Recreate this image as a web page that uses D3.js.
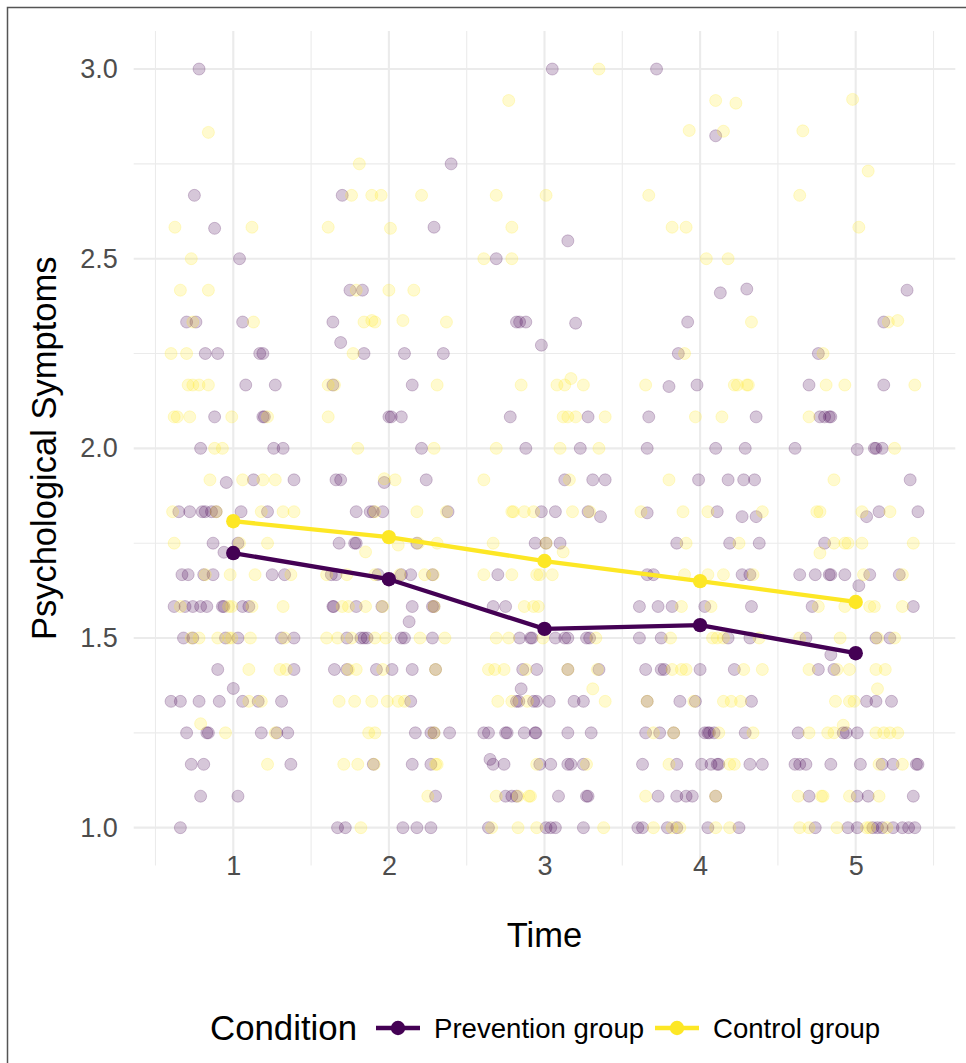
<!DOCTYPE html>
<html>
<head>
<meta charset="utf-8">
<script src="https://cdn.jsdelivr.net/npm/d3@7"></script>
<style>
  html, body { margin: 0; padding: 0; background: #fff; }
  svg { display: block; font-family: "Liberation Sans", Arial, sans-serif; }
</style>
</head>
<body>
<div id="chart"></div>
<script>
// --- data ---
const times = [1, 2, 3, 4, 5];
const yTicks = [1.0, 1.5, 2.0, 2.5, 3.0];
const groups = ["Prevention group", "Control group"];
const preventionMeans = [1.724, 1.655, 1.524, 1.534, 1.460];
const controlMeans    = [1.808, 1.766, 1.703, 1.650, 1.595];

// jittered raw observations [time + jitter, symptoms]
const preventionPts = [
  [0.78,3.0],[0.75,2.667],[0.88,2.58],[1.04,2.5],[0.70,2.333],[0.76,2.333],[1.06,2.333],[0.82,2.25],[0.90,2.25],[1.17,2.25],[1.19,2.25],[1.08,2.167],[1.27,2.167],[0.88,2.083],[1.19,2.083],[1.20,2.083],[0.79,2.0],[1.26,2.0],[1.32,2.0],
  [0.955,1.91],[1.13,1.917],[1.39,1.917],[0.65,1.833],[0.72,1.833],[0.80,1.833],[0.82,1.833],[0.86,1.833],[0.89,1.833],[1.05,1.833],[1.22,1.833],
  [0.87,1.75],[1.03,1.75],[0.94,1.726],[0.67,1.667],[0.71,1.667],[0.81,1.667],[0.87,1.667],[1.25,1.667],[1.33,1.667],
  [0.62,1.583],[0.69,1.583],[0.74,1.583],[0.79,1.583],[0.83,1.583],[0.93,1.583],[0.94,1.583],[1.06,1.583],[1.10,1.583],
  [0.68,1.5],[0.74,1.5],[0.95,1.5],[1.03,1.5],[1.31,1.5],[1.39,1.5],[0.90,1.417],[1.39,1.417],[1.0,1.367],
  [0.60,1.333],[0.66,1.333],[0.78,1.333],[0.91,1.333],[1.06,1.333],[1.16,1.333],[1.31,1.333],
  [0.70,1.25],[0.83,1.25],[0.84,1.25],[1.18,1.25],[1.28,1.25],[1.35,1.25],[0.73,1.167],[0.81,1.167],[1.37,1.167],
  [0.79,1.083],[1.03,1.083],[0.66,1.0],
  [2.40,2.75],[1.70,2.667],[2.29,2.583],[1.75,2.417],[1.83,2.417],[1.64,2.333],[1.69,2.279],[1.84,2.25],[2.10,2.25],[2.35,2.25],[1.64,2.167],[2.15,2.167],[2.0,2.083],[2.015,2.083],[2.08,2.083],[2.21,2.0],
  [1.66,1.917],[1.69,1.917],[1.97,1.91],[2.24,1.917],[1.79,1.833],[1.88,1.833],[1.90,1.833],[1.96,1.833],[2.38,1.833],
  [1.68,1.75],[1.78,1.75],[1.79,1.75],[2.18,1.75],[1.63,1.667],[1.66,1.667],[1.93,1.667],[2.08,1.667],[2.14,1.667],[2.28,1.667],
  [1.64,1.583],[1.645,1.583],[1.79,1.583],[1.955,1.583],[2.15,1.583],[2.28,1.583],[2.29,1.583],[2.13,1.543],
  [1.73,1.5],[1.82,1.5],[1.84,1.5],[1.86,1.5],[2.08,1.5],[2.10,1.5],[2.28,1.5],
  [1.65,1.417],[1.73,1.417],[1.92,1.417],[2.02,1.417],[2.15,1.417],[2.30,1.417],[2.14,1.333],
  [2.17,1.25],[2.27,1.25],[2.29,1.25],[2.39,1.25],[1.90,1.167],[2.15,1.167],[2.27,1.167],[2.30,1.083],
  [1.67,1.0],[1.72,1.0],[2.09,1.0],[2.18,1.0],[2.27,1.0],
  [3.05,3.0],[3.15,2.547],[2.69,2.5],[2.82,2.333],[2.84,2.333],[2.88,2.333],[3.20,2.33],[2.98,2.272],[2.78,2.083],[3.28,2.083],[2.88,2.0],[3.23,2.0],
  [3.13,1.917],[3.31,1.917],[3.39,1.917],[2.98,1.833],[3.07,1.833],[3.28,1.833],[3.36,1.82],
  [2.94,1.75],[3.01,1.75],[3.10,1.75],[2.70,1.667],[2.67,1.583],[2.75,1.583],
  [2.84,1.5],[2.91,1.5],[2.92,1.5],[3.07,1.5],[3.13,1.5],[3.15,1.5],[3.27,1.5],[3.29,1.5],
  [2.86,1.417],[2.95,1.417],[3.15,1.417],[3.35,1.417],[2.85,1.366],
  [2.82,1.333],[2.835,1.333],[2.93,1.333],[2.95,1.333],[3.03,1.333],[3.19,1.333],[3.25,1.333],
  [2.61,1.25],[2.64,1.25],[2.75,1.25],[2.76,1.25],[2.87,1.25],[2.94,1.25],[2.945,1.25],[3.15,1.25],[3.30,1.25],
  [2.65,1.18],[2.67,1.167],[2.74,1.167],[2.97,1.167],[3.04,1.167],[3.15,1.167],[3.17,1.167],[3.25,1.167],
  [2.75,1.083],[2.79,1.083],[2.82,1.083],[3.09,1.083],[3.27,1.083],[3.28,1.083],
  [2.64,1.0],[3.01,1.0],[3.04,1.0],[3.07,1.0],[3.25,1.0],
  [3.72,3.0],[4.10,2.824],[4.13,2.41],[4.30,2.42],[3.92,2.333],[3.86,2.25],[3.80,2.163],[3.98,2.167],[3.67,2.083],[4.36,2.083],[3.66,2.0],[4.10,2.0],[4.29,2.0],
  [3.99,1.917],[4.18,1.917],[4.28,1.917],[4.35,1.917],[3.66,1.83],[4.11,1.833],[4.27,1.82],[4.36,1.82],
  [3.85,1.75],[4.19,1.75],[4.38,1.75],[3.66,1.667],[3.70,1.667],[4.27,1.667],[4.32,1.667],
  [3.61,1.583],[3.73,1.583],[3.82,1.583],[4.03,1.583],[4.33,1.583],[3.61,1.5],[3.75,1.5],[4.18,1.5],[4.32,1.5],
  [3.65,1.417],[3.75,1.417],[3.77,1.417],[4.0,1.417],[4.22,1.417],[3.66,1.333],[3.87,1.333],[3.97,1.333],[4.33,1.333],
  [3.65,1.25],[3.74,1.25],[3.83,1.25],[4.03,1.25],[4.05,1.25],[4.06,1.25],[4.09,1.25],[4.29,1.25],
  [3.63,1.167],[3.85,1.167],[4.01,1.167],[4.07,1.167],[4.11,1.167],[4.12,1.167],[4.32,1.167],[4.40,1.167],
  [3.73,1.083],[3.85,1.083],[3.91,1.083],[3.95,1.083],[4.10,1.083],
  [3.60,1.0],[3.63,1.0],[3.79,1.0],[3.85,1.0],[4.05,1.0],[4.25,1.0],
  [5.33,2.417],[5.18,2.333],[4.76,2.25],[4.70,2.167],[5.18,2.167],[4.77,2.083],[4.80,2.083],[4.83,2.083],[4.84,2.083],[4.61,2.0],[5.01,1.997],[5.12,2.0],[5.13,2.0],[5.17,2.0],
  [5.35,1.917],[5.07,1.82],[5.15,1.833],[5.40,1.833],[4.80,1.75],
  [4.64,1.667],[4.74,1.667],[4.83,1.667],[4.84,1.667],[4.93,1.667],[5.09,1.667],[5.28,1.667],[5.02,1.638],
  [4.72,1.583],[5.37,1.583],[4.68,1.5],[5.13,1.5],[5.22,1.5],[4.84,1.456],[4.76,1.417],[4.86,1.417],
  [5.07,1.333],[5.13,1.333],[5.23,1.333],[4.63,1.25],[4.92,1.25],[4.94,1.25],[5.01,1.25],
  [4.61,1.167],[4.64,1.167],[4.68,1.167],[4.84,1.167],[5.03,1.167],[5.17,1.167],[5.24,1.167],[5.39,1.167],[5.40,1.167],
  [4.70,1.083],[5.01,1.083],[5.08,1.083],[5.37,1.083],
  [4.74,1.0],[4.95,1.0],[5.01,1.0],[5.11,1.0],[5.14,1.0],[5.17,1.0],[5.24,1.0],[5.30,1.0],[5.34,1.0],[5.38,1.0]
];

const controlPts = [
  [0.84,2.833],[0.625,2.583],[1.12,2.583],[0.73,2.5],[0.66,2.417],[0.84,2.417],[0.74,2.333],[1.13,2.333],[0.60,2.25],[0.70,2.25],[0.71,2.167],[0.74,2.167],[0.78,2.167],[0.84,2.167],
  [0.62,2.083],[0.64,2.083],[0.72,2.083],[0.99,2.083],[1.22,2.083],[0.88,2.0],[0.93,2.0],
  [0.85,1.917],[1.06,1.917],[1.19,1.917],[1.27,1.917],[0.61,1.833],[0.89,1.833],[1.18,1.833],[1.32,1.833],[1.39,1.833],
  [0.62,1.75],[1.04,1.75],[1.22,1.75],[0.82,1.667],[0.98,1.667],[1.14,1.667],[1.37,1.667],
  [0.66,1.583],[0.97,1.583],[0.99,1.583],[1.12,1.583],[1.32,1.583],
  [0.73,1.5],[0.78,1.5],[0.90,1.5],[0.97,1.5],[0.99,1.5],[1.11,1.5],[1.33,1.5],
  [1.10,1.417],[1.30,1.417],[1.34,1.417],[1.10,1.333],[1.18,1.333],[0.79,1.274],[0.95,1.25],[1.27,1.25],[1.22,1.167],
  [1.81,2.75],[1.76,2.667],[1.89,2.667],[1.95,2.667],[2.21,2.667],[1.61,2.583],[2.01,2.58],[1.79,2.417],[2.0,2.417],[2.16,2.417],
  [1.84,2.333],[1.89,2.337],[1.91,2.333],[2.09,2.337],[2.37,2.333],[1.77,2.25],[1.61,2.167],[1.65,2.167],[2.31,2.167],[1.61,2.083],[1.80,2.0],[2.29,2.0],
  [1.97,1.92],[2.04,1.917],[1.91,1.833],[2.18,1.833],[2.37,1.833],[1.85,1.727],[2.06,1.745],[2.19,1.75],[2.31,1.75],
  [1.60,1.667],[1.73,1.667],[1.91,1.667],[2.07,1.667],[2.23,1.667],[2.285,1.667],
  [1.70,1.583],[1.74,1.583],[1.85,1.583],[1.96,1.583],[2.29,1.583],
  [1.60,1.5],[1.67,1.5],[1.76,1.5],[1.91,1.5],[1.98,1.5],[2.20,1.5],[2.36,1.5],
  [1.74,1.417],[1.79,1.417],[1.96,1.417],[2.30,1.417],[1.68,1.333],[1.78,1.333],[1.89,1.333],[1.99,1.333],[2.06,1.333],[2.10,1.333],
  [1.87,1.25],[1.91,1.25],[2.29,1.25],[1.71,1.167],[1.80,1.167],[1.905,1.167],[2.30,1.167],[2.31,1.167],[2.25,1.083],[1.82,1.0],
  [3.35,3.0],[2.77,2.917],[2.69,2.667],[3.01,2.667],[2.79,2.583],[2.61,2.5],[2.79,2.5],[2.85,2.167],[3.08,2.167],[3.13,2.167],[3.17,2.184],[3.25,2.167],
  [3.12,2.083],[3.15,2.083],[3.20,2.083],[3.39,2.083],[2.69,2.0],[3.10,2.0],[3.35,2.0],
  [2.61,1.917],[3.16,1.917],[2.79,1.833],[2.80,1.833],[2.87,1.833],[2.93,1.833],[3.18,1.833],[3.29,1.833],
  [2.67,1.75],[3.01,1.75],[3.12,1.727],[2.61,1.667],[2.79,1.667],[2.95,1.667],[2.97,1.667],[3.05,1.667],
  [2.87,1.583],[2.93,1.583],[2.96,1.583],[2.69,1.5],[2.77,1.5],[2.99,1.5],[3.33,1.5],
  [2.64,1.417],[2.68,1.417],[2.74,1.417],[2.88,1.417],[3.15,1.417],[3.34,1.417],[3.31,1.366],
  [2.70,1.333],[2.79,1.333],[2.89,1.333],[3.39,1.333],[2.95,1.167],[3.27,1.167],
  [2.69,1.083],[2.83,1.083],[2.90,1.083],[2.91,1.083],[2.66,1.0],[2.83,1.0],[2.95,1.0],[3.38,1.0],
  [4.10,2.917],[4.23,2.91],[3.93,2.838],[4.15,2.836],[3.67,2.667],[3.82,2.583],[3.91,2.583],[4.04,2.5],[4.18,2.5],[4.33,2.333],[3.90,2.25],
  [3.65,2.167],[4.22,2.167],[4.24,2.167],[4.30,2.167],[4.31,2.167],[3.97,2.083],[4.14,2.083],
  [3.80,1.917],[3.62,1.833],[3.89,1.833],[4.05,1.833],[4.40,1.833],[3.91,1.75],[4.25,1.75],
  [3.90,1.667],[4.05,1.667],[4.15,1.667],[4.34,1.667],[3.88,1.583],[4.07,1.583],
  [3.81,1.5],[4.08,1.5],[4.11,1.5],[4.15,1.5],[4.38,1.5],[3.82,1.417],[3.88,1.417],[3.91,1.417],[4.28,1.417],[4.40,1.417],
  [3.66,1.333],[3.96,1.333],[4.15,1.333],[4.20,1.333],[4.26,1.333],[3.70,1.25],[3.83,1.25],[4.12,1.25],[4.34,1.25],
  [3.80,1.167],[4.19,1.167],[4.22,1.167],[3.65,1.083],[4.10,1.083],[3.70,1.0],[3.82,1.0],[3.87,1.0],[4.10,1.0],[4.19,1.0],
  [4.98,2.92],[4.66,2.837],[5.08,2.731],[4.64,2.667],[5.02,2.583],[5.21,2.333],[5.27,2.337],[4.79,2.25],[4.81,2.167],[4.93,2.167],[5.38,2.167],[4.70,2.083],[5.25,2.0],
  [4.86,1.917],[4.75,1.833],[4.77,1.833],[5.04,1.833],[5.22,1.833],
  [4.86,1.75],[4.93,1.75],[4.95,1.75],[5.04,1.75],[5.37,1.75],[4.77,1.724],[5.05,1.667],[5.30,1.667],
  [4.76,1.583],[4.93,1.583],[5.09,1.583],[5.12,1.583],[5.30,1.583],[4.64,1.5],[4.90,1.5],[5.14,1.5],[5.25,1.5],
  [4.70,1.417],[4.88,1.417],[4.96,1.417],[5.13,1.417],[5.19,1.417],[5.14,1.366],[4.87,1.333],[4.96,1.333],[4.99,1.333],
  [4.70,1.25],[4.82,1.25],[4.86,1.25],[4.92,1.27],[5.13,1.25],[5.18,1.25],[5.22,1.25],[5.27,1.25],[5.15,1.167],[5.30,1.167],
  [4.63,1.083],[4.78,1.083],[4.79,1.083],[4.96,1.083],[5.15,1.083],[4.64,1.0],[4.70,1.0],[4.88,1.0],[5.07,1.0],[5.09,1.0],[5.20,1.0]
];

// --- layout / style ---
const W = 966, H = 1063;
const panel = { left: 133.7, right: 955.3, top: 31.1, bottom: 865.6 };
const colors = { prevention: "#440154", control: "#FDE725", grid: "#ebebeb", tick: "#4d4d4d" };
const font = "'Liberation Sans', Arial, sans-serif";

const svg = d3.select("#chart").append("svg")
  .attr("width", W).attr("height", H);

svg.append("rect").attr("width", W).attr("height", H).attr("fill", "#fff");

const x = d3.scaleLinear().domain([0.36, 5.64]).range([panel.left, panel.right]);
const y = d3.scaleLinear().domain([0.9, 3.1]).range([panel.bottom, panel.top]);

// --- gridlines: minor then major ---
const xMinor = [0.5, 1.5, 2.5, 3.5, 4.5, 5.5];
const yMinor = [1.25, 1.75, 2.25, 2.75];
const grid = svg.append("g");
grid.selectAll(".xm").data(xMinor).join("line")
  .attr("x1", d => x(d)).attr("x2", d => x(d))
  .attr("y1", panel.top).attr("y2", panel.bottom)
  .attr("stroke", colors.grid).attr("stroke-width", 1.1);
grid.selectAll(".ym").data(yMinor).join("line")
  .attr("y1", d => y(d)).attr("y2", d => y(d))
  .attr("x1", panel.left).attr("x2", panel.right)
  .attr("stroke", colors.grid).attr("stroke-width", 1.1);
grid.selectAll(".xM").data(times).join("line")
  .attr("x1", d => x(d)).attr("x2", d => x(d))
  .attr("y1", panel.top).attr("y2", panel.bottom)
  .attr("stroke", colors.grid).attr("stroke-width", 2.1);
grid.selectAll(".yM").data(yTicks).join("line")
  .attr("y1", d => y(d)).attr("y2", d => y(d))
  .attr("x1", panel.left).attr("x2", panel.right)
  .attr("stroke", colors.grid).attr("stroke-width", 2.1);

// --- jittered points ---
function drawPts(data, col) {
  svg.append("g").selectAll("circle").data(data).join("circle")
    .attr("cx", d => x(d[0])).attr("cy", d => y(d[1])).attr("r", 6)
    .attr("fill", col).attr("fill-opacity", 0.22)
    .attr("stroke", col).attr("stroke-opacity", 0.22).attr("stroke-width", 1);
}
drawPts(preventionPts, colors.prevention);
drawPts(controlPts, colors.control);

// --- mean lines + points ---
const line = d3.line().x((d, i) => x(times[i])).y(d => y(d));
[[preventionMeans, colors.prevention], [controlMeans, colors.control]].forEach(([m, col]) => {
  svg.append("path").datum(m).attr("d", line)
    .attr("fill", "none").attr("stroke", col).attr("stroke-width", 4.3)
    .attr("stroke-linejoin", "round");
  svg.append("g").selectAll("circle").data(m).join("circle")
    .attr("cx", (d, i) => x(times[i])).attr("cy", d => y(d)).attr("r", 7.2)
    .attr("fill", col);
});

// --- axes (text only, theme_minimal style) ---
const yAxis = d3.axisLeft(y).tickValues(yTicks).tickFormat(d3.format(".1f")).tickSize(0).tickPadding(0);
svg.append("g").attr("transform", `translate(${panel.left - 16},0)`).call(yAxis)
  .call(g => g.select(".domain").remove())
  .call(g => g.selectAll("text").attr("fill", colors.tick).style("font-size", "27px").style("font-family", font));

const xAxis = d3.axisBottom(x).tickValues(times).tickFormat(d3.format("d")).tickSize(0).tickPadding(0);
svg.append("g").attr("transform", `translate(0,${panel.bottom - 10})`).call(xAxis)
  .call(g => g.select(".domain").remove())
  .call(g => g.selectAll("text").attr("fill", colors.tick).style("font-size", "27px").style("font-family", font));

// axis titles
svg.append("text")
  .attr("x", x(3)).attr("y", 947)
  .attr("text-anchor", "middle").style("font-size", "34.5px").style("font-family", font)
  .attr("fill", "#000").text("Time");
svg.append("text")
  .attr("transform", `translate(56,${y(2)}) rotate(-90)`)
  .attr("text-anchor", "middle").style("font-size", "34.5px").style("font-family", font)
  .attr("fill", "#000").text("Psychological Symptoms");

// --- legend ---
const leg = svg.append("g");
const legY = 1028;
leg.append("text").attr("x", 210).attr("y", legY + 12)
  .style("font-size", "34.8px").style("font-family", font).attr("fill", "#000").text("Condition");
const legItems = [
  { label: groups[0], col: colors.prevention, kx: 376, tx: 434 },
  { label: groups[1], col: colors.control,    kx: 655, tx: 713 }
];
legItems.forEach(it => {
  leg.append("line").attr("x1", it.kx).attr("x2", it.kx + 44)
    .attr("y1", legY).attr("y2", legY).attr("stroke", it.col).attr("stroke-width", 4.3);
  leg.append("circle").attr("cx", it.kx + 22).attr("cy", legY).attr("r", 7.2).attr("fill", it.col);
  leg.append("text").attr("x", it.tx).attr("y", legY + 10)
    .style("font-size", "27.6px").style("font-family", font).attr("fill", "#000").text(it.label);
});

// --- outer border ---
svg.append("rect").attr("x", 7.5).attr("y", 7.5).attr("width", W).attr("height", H)
  .attr("fill", "none").attr("stroke", "#555").attr("stroke-width", 1.5);
</script>
</body>
</html>
